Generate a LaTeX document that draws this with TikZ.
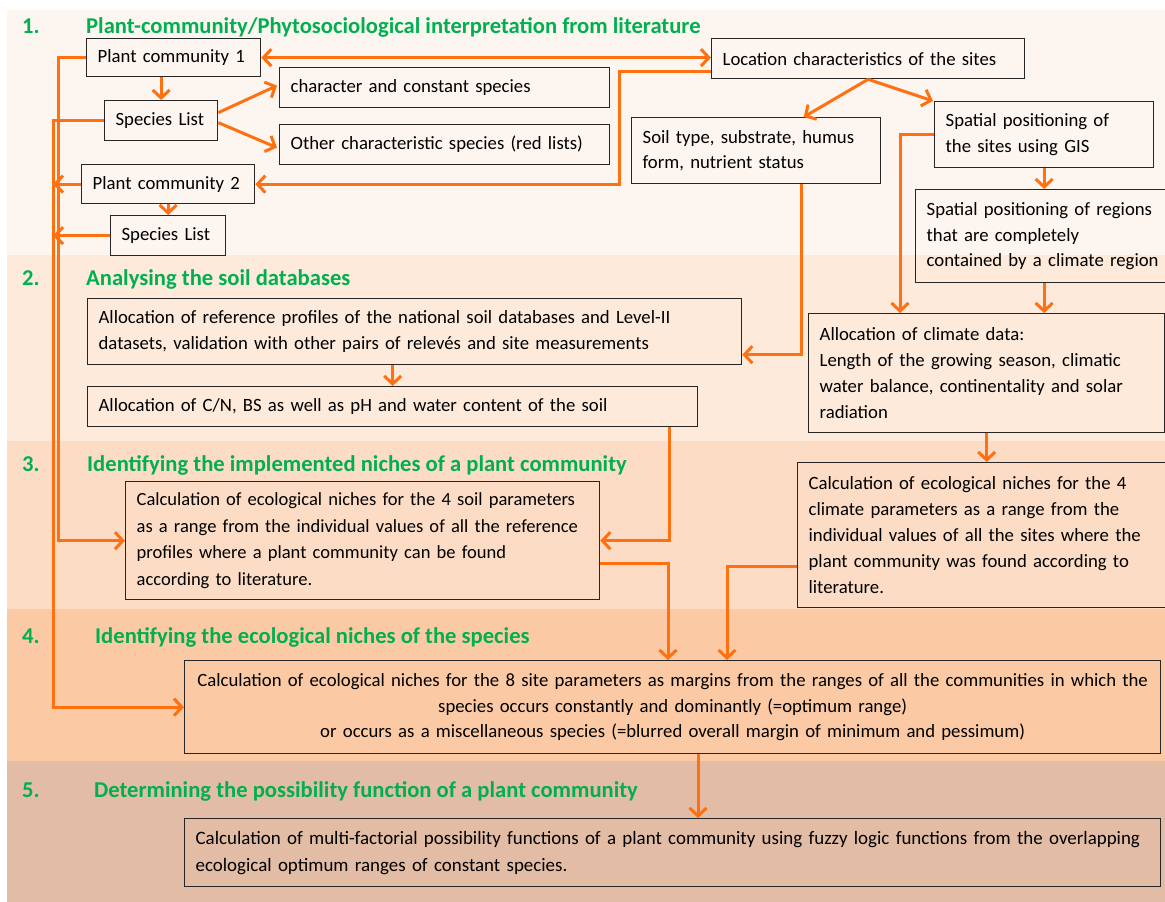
\documentclass[tikz,border=0pt]{standalone}
\usepackage{fontspec}
\setmainfont{Carlito}
\usetikzlibrary{arrows.meta,calc}
\definecolor{bandA}{HTML}{FDF6F0}
\definecolor{bandB}{HTML}{FDEADB}
\definecolor{bandC}{HTML}{FCDCC4}
\definecolor{bandD}{HTML}{FBCAA4}
\definecolor{bandE}{HTML}{E2BCA4}
\definecolor{flow}{HTML}{FF7010}
\definecolor{ttlgreen}{HTML}{00B050}
\newcommand{\tline}[1]{\mbox{#1}}
\begin{document}
\begin{tikzpicture}[x=1bp,y=-1bp,
  box/.style={draw=black!85, line width=1.3bp, anchor=north west, inner xsep=11bp, inner ysep=0pt, align=left, font=\fontsize{18.8}{26}\selectfont},
  ttl/.style={anchor=base west, text=ttlgreen, inner sep=0pt, font=\bfseries\fontsize{22.7}{26}\selectfont},
  arr/.style={draw=flow, line width=3bp, -{Straight Barb[length=8bp,width=17bp]}},
  darr/.style={draw=flow, line width=3bp, {Straight Barb[length=8bp,width=17bp]}-{Straight Barb[length=8bp,width=17bp]}},
]
\useasboundingbox (0,0) rectangle (1165,902);
% bands
\fill[bandA] (7,10) rectangle (1165,255);
\fill[bandB] (7,255) rectangle (1165,441);
\fill[bandC] (7,441) rectangle (1165,609);
\fill[bandD] (7,609) rectangle (1165,761);
\fill[bandE] (7,761) rectangle (1165,902);
% titles
\node[ttl] (n1) at (22,33) {1.};
\node[ttl] (t1) at (86,33) {Plant-community/Phytosociological interpretation from literature};
\node[ttl] (n2) at (22,285) {2.};
\node[ttl] (t2) at (86,285) {Analysing the soil databases};
\node[ttl] (n3) at (22,471) {3.};
\node[ttl] (t3) at (87,471) {Identifying the implemented niches of a plant community};
\node[ttl] (n4) at (22,643) {4.};
\node[ttl] (t4) at (95,643) {Identifying the ecological niches of the species};
\node[ttl] (n5) at (22,797) {5.};
\node[ttl] (t5) at (94,797) {Determining the possibility function of a plant community};
% boxes
\node[box, text width=152bp, minimum height=38bp] (pc1) at (86,38) {\tline{Plant community 1}};
\node[box, text width=91bp, minimum height=40bp] (sl1) at (104,100) {\tline{Species List}};
\node[box, text width=308bp, minimum height=40bp] (chr) at (279,67) {\tline{character and constant species}};
\node[box, text width=308bp, minimum height=40bp] (oth) at (279,124) {\tline{Other characteristic species (red lists)}};
\node[box, text width=151bp, minimum height=39bp] (pc2) at (81,164) {\tline{Plant community 2}};
\node[box, text width=93bp, minimum height=40bp] (sl2) at (110,215) {\tline{Species List}};
\node[box, text width=291bp, minimum height=40bp] (loc) at (711,38) {\tline{Location characteristics of the sites}};
\node[box, text width=227bp, minimum height=66bp] (soil) at (631,117) {\tline{Soil type, substrate, humus}\\\tline{form, nutrient status}};
\node[box, text width=197bp, minimum height=66bp] (gis) at (934,101) {\tline{Spatial positioning of}\\\tline{the sites using GIS}};
\node[box, text width=235bp, minimum height=93bp] (reg) at (915,189) {\tline{Spatial positioning of regions}\\\tline{that are completely}\\\tline{contained by a climate region}};
\node[box, text width=632bp, minimum height=66bp] (ref) at (87,298) {\tline{Allocation of reference profiles of the national soil databases and Level-II}\\\tline{datasets, validation with other pairs of relevés and site measurements}};
\node[box, text width=588bp, minimum height=40bp] (cn) at (87,386) {\tline{Allocation of C/N, BS as well as pH and water content of the soil}};
\node[box, text width=334bp, minimum height=119bp] (cd) at (808,313) {\tline{Allocation of climate data:}\\\tline{Length of the growing season, climatic}\\\tline{water balance, continentality and solar}\\\tline{radiation}};
\node[box, text width=452bp, minimum height=118bp, font=\fontsize{18.6}{27}\selectfont] (scalc) at (125,481) {\tline{Calculation of ecological niches for the 4 soil parameters}\\\tline{as a range from the individual values of all the reference}\\\tline{profiles where a plant community can be found}\\\tline{according to literature.}};
\node[box, text width=348bp, minimum height=145bp] (ccalc) at (797,462) {\tline{Calculation of ecological niches for the 4}\\\tline{climate parameters as a range from the}\\\tline{individual values of all the sites where the}\\\tline{plant community was found according to}\\\tline{literature.}};
\node[box, text width=954bp, minimum height=93bp, align=center] (b4) at (184,660) {\tline{Calculation of ecological niches for the 8 site parameters as margins from the ranges of all the communities in which the}\\\tline{species occurs constantly and dominantly (=optimum range)}\\\tline{or occurs as a miscellaneous species (=blurred overall margin of minimum and pessimum)}};
\node[box, text width=954bp, minimum height=68bp, font=\fontsize{19}{27}\selectfont] (b5) at (184,818) {\tline{Calculation of multi-factorial possibility functions of a plant community using fuzzy logic functions from the overlapping}\\\tline{ecological optimum ranges of constant species.}};
% helper coordinates
\coordinate (xa) at (58,0);
\coordinate (xb) at (53,0);
\coordinate (xc) at (619,0);
% connectors
\draw[arr] (pc1.west) -| (xa |- scalc.west) -- (scalc.west);
\draw[arr] (sl1.west) -| (xb |- b4.west) -- (b4.west);
\draw[arr] (pc2.west) -- (pc2.west -| xb);
\draw[arr] (sl2.west) -- (sl2.west -| xb);
\draw[arr] (sl1.north |- pc1.south) -- (sl1.north);
\draw[arr] (sl2.north |- pc2.south) -- (sl2.north);
\draw[arr] ([yshift=8bp]sl1.east) -- ([xshift=-2bp,yshift=2bp]chr.west);
\draw[arr] ([yshift=-2bp]sl1.east) -- ([xshift=-2bp,yshift=-3bp]oth.west);
\draw[darr] (pc1.east) -- (pc1.east -| loc.west);
\draw[arr] ([yshift=-13bp]loc.west) -| (xc |- pc2.east) -- (pc2.east);
\draw[arr] (loc.south) -- ($(soil.north west)!0.69!(soil.north east)$);
\draw[arr] (loc.south) -- ([xshift=-1bp]gis.north west);
\draw[arr] ($(soil.south west)!0.68!(soil.south east)$) |- ([yshift=-23bp]ref.east);
\draw[arr] (gis.west) -| ($(cd.north west)+(92,0)$);
\draw[arr] (gis.south) -- (gis.south |- reg.north);
\draw[arr] (reg.south) -- (reg.south |- cd.north);
\draw[arr] (cd.south) -- (cd.south |- ccalc.north);
\draw[arr] (cn.north |- ref.south) -- (cn.north);
\draw[arr] ($(cn.south east)+(-29,0)$) |- (scalc.east);
\draw[arr] ([yshift=-23bp]scalc.east) -| ($(b4.north west)+(484,0)$);
\draw[arr] ([yshift=-31bp]ccalc.west) -| ($(b4.north west)+(543,0)$);
\draw[arr] ($(b4.south west)+(514,0)$) -- ($(b5.north west)+(514,0)$);
\end{tikzpicture}
\end{document}
